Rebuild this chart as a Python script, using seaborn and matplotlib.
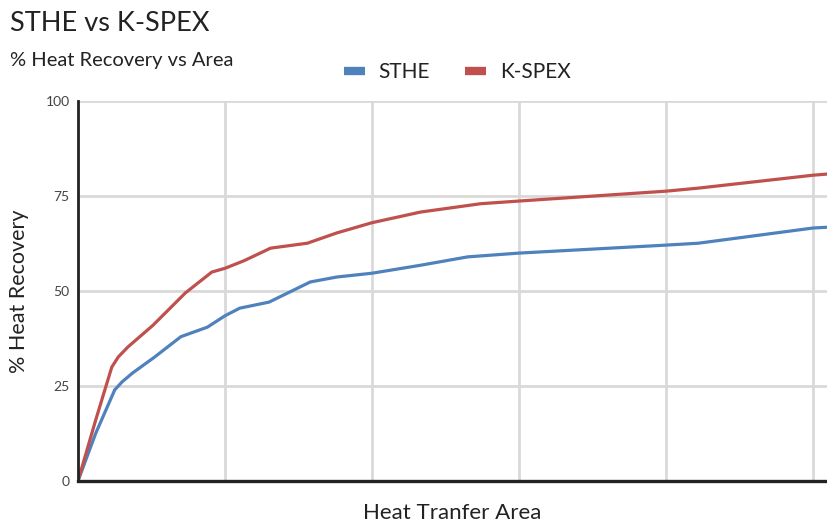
import pandas as pd
import numpy as np
import matplotlib
matplotlib.use('Agg')
import matplotlib.pyplot as plt
import seaborn as sns

# 数据（从图中读取，横轴单位 = 一个网格间距）
area_sthe = [0, 0.12, 0.25, 0.30, 0.37, 0.52, 0.70, 0.88, 1.00, 1.10, 1.30, 1.58, 1.76, 2.00, 2.33, 2.65, 3.00, 4.00, 4.22, 5.00, 5.095]
rec_sthe = [0, 12.5, 24.0, 26.1, 28.4, 32.6, 38.0, 40.5, 43.5, 45.5, 47.1, 52.4, 53.7, 54.7, 56.8, 59.0, 60.0, 62.1, 62.6, 66.6, 66.8]

area_kspex = [0, 0.12, 0.23, 0.275, 0.34, 0.51, 0.73, 0.91, 1.00, 1.13, 1.31, 1.56, 1.76, 2.00, 2.33, 2.74, 3.00, 4.00, 4.22, 5.00, 5.095]
rec_kspex = [0, 16.0, 30.0, 32.7, 35.3, 41.0, 49.5, 55.0, 56.0, 58.0, 61.3, 62.6, 65.3, 68.0, 70.8, 73.0, 73.7, 76.3, 77.1, 80.5, 80.8]

series_names = ['STHE', 'K-SPEX']
colors = ['#4f81bd', '#c0504d']
y_ticks = [0, 25, 50, 75, 100]
x_grid = [1, 2, 3, 4, 5]

df = pd.concat([
    pd.DataFrame({'area': area_sthe, 'recovery': rec_sthe, 'series': 'STHE'}),
    pd.DataFrame({'area': area_kspex, 'recovery': rec_kspex, 'series': 'K-SPEX'}),
])

sns.set_style('white')
plt.rcParams['font.family'] = ['Lato', 'DejaVu Sans']

fig = plt.figure(figsize=(8.27, 5.24), dpi=100)
ax = fig.add_axes([0.0943, 0.082, 0.9057, 0.725])

sns.lineplot(data=df, x='area', y='recovery', hue='series', hue_order=series_names,
             palette=colors, linewidth=2.3, ax=ax, legend=False, sort=False)
for ln in ax.lines:
    ln.set_solid_joinstyle('round')
    ln.set_solid_capstyle('round')

# 坐标轴与网格
ax.set_xlim(0, 5.095)
ax.set_ylim(0, 100)
ax.set_yticks(y_ticks)
ax.set_xticks(x_grid)
ax.set_xticklabels([])
ax.tick_params(axis='x', length=0)
ax.tick_params(axis='y', length=0, labelsize=10, labelcolor='#444444', pad=6)
ax.grid(True, color='#d9d9d9', linewidth=2)
ax.set_axisbelow(True)
for s in ['top', 'right']:
    ax.spines[s].set_visible(False)
ax.spines['left'].set_color('#222222')
ax.spines['left'].set_linewidth(2)
ax.spines['bottom'].set_color('#222222')
ax.spines['bottom'].set_linewidth(2.4)
ax.spines['left'].set_zorder(3)
ax.spines['bottom'].set_zorder(3)

ax.set_xlabel('Heat Tranfer Area', fontsize=16, color='#222222', labelpad=12)
ax.set_ylabel('% Heat Recovery', fontsize=15.5, color='#222222', labelpad=12)

# 标题
fig.text(0.012, 0.955, 'STHE vs K-SPEX', fontsize=19.5, color='#222222', va='center', ha='left')
fig.text(0.012, 0.884, '% Heat Recovery vs Area', fontsize=14.5, color='#222222', va='center', ha='left')

# 图例
handles = [plt.Line2D([], [], color=c, linewidth=6, solid_capstyle='butt') for c in colors]
fig.legend(handles, series_names, loc='center', bbox_to_anchor=(0.553, 0.862), ncol=2,
           frameon=False, fontsize=15, handlelength=1.0, handletextpad=0.65, columnspacing=1.7,
           labelcolor='#222222')

plt.savefig('out.png', dpi=100)
